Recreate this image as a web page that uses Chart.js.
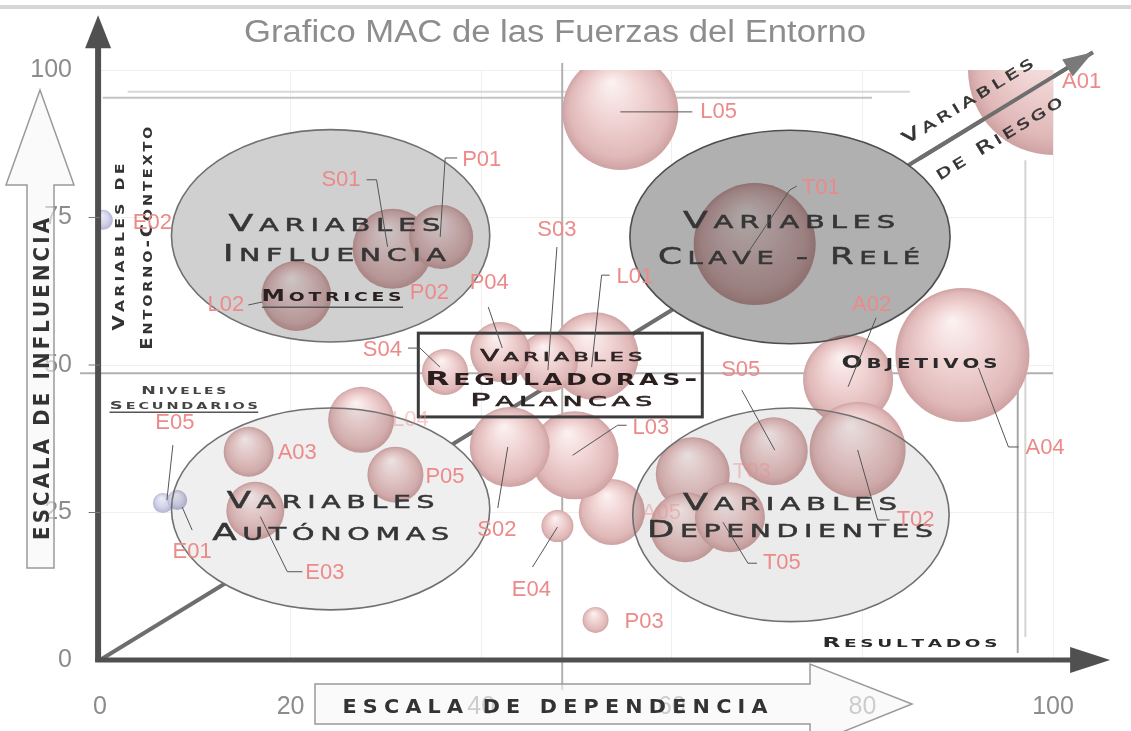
<!DOCTYPE html>
<html>
<head>
<meta charset="utf-8">
<script src="https://cdn.jsdelivr.net/npm/chart.js@4.4.1/dist/chart.umd.min.js"></script>
<style>
  html, body { margin: 0; padding: 0; background: #fff; }
  #wrap { width: 1131px; height: 731px; }
</style>
</head>
<body>
<div id="wrap"><canvas id="macChart" width="1131" height="731"></canvas></div>
<script>
// Variables del grafico MAC (dependencia, influencia, tamano de burbuja en px)
const codigos     = ['L05','A01','T01','A04','A02','T02','S05','T03','T04','T05','A05','P03','E04','L03','S02','L01','S03','P04','S04','P02','S01','P01','L02','E02','E05','E01','A03','E03','L04','P05'];
const dependencia = [54.6, 100, 68.7, 90.5, 78.5, 79.5, 70.7, 62.2, 61.4, 66.1, 53.7, 52.0, 48.0, 49.8, 43.0, 51.9, 47.0, 42.0, 36.2, 30.2, 30.7, 35.8, 20.6, 0.3, 6.6, 8.1, 15.6, 16.3, 27.4, 31.0];
const influencia  = [92.9, 100, 70.5, 51.7, 47.5, 35.6, 35.4, 31.5, 22.5, 24.2, 25.1, 6.8, 22.7, 34.7, 36.1, 51.5, 50.5, 52.2, 48.8, 68.4, 69.7, 71.7, 61.7, 74.6, 26.6, 27.1, 35.3, 25.3, 40.7, 31.4];
const tamano      = [58, 85, 61, 67, 45, 48, 34, 37, 35, 35, 33, 13, 16, 44, 40, 44, 30, 30, 23, 28, 40, 32, 35, 10, 10, 10, 25, 29, 33, 28];
const tonoLila    = ['E02', 'E05', 'E01'];

const ticksDependencia = [0, 20, 40, 60, 80, 100];
const ticksInfluencia  = [0, 25, 50, 75, 100];

const titulo = 'Grafico MAC de las Fuerzas del Entorno';

// posicion de cada etiqueta respecto al centro de su burbuja (px) y su linea guia
const etiquetas = {
  L05: { t: [80, 0], a: 'left', l: [[0, 0], [72, 0]] },
  A01: { t: [9, 12], a: 'left' },
  T01: { t: [47, -56], a: 'left', l: [[-7, 9], [35, -54], [42, -58]] },
  A04: { t: [63, 93], a: 'left', l: [[16, 13], [46, 92], [56, 92]] },
  A02: { t: [4, -75], a: 'left', l: [[0, 7], [28, -62]] },
  T02: { t: [39, 70], a: 'left', l: [[0, 0], [20, 70], [32, 70]] },
  S05: { t: [-33, -81], a: 'center', l: [[-32, -61], [1, -1]] },
  T03: { t: [40, -2], a: 'left', faint: true },
  T05: { t: [33, 46], a: 'left', l: [[-7, 5], [18, 46], [27, 46]] },
  A05: { t: [30, 1], a: 'left', faint: true },
  P03: { t: [29, 2], a: 'left' },
  E04: { t: [-26, 64], a: 'center', l: [[-25, 41], [0, 1]] },
  L03: { t: [58, -27], a: 'left', l: [[-2, 0], [43, -30], [52, -30]] },
  S02: { t: [-13, 83], a: 'center', l: [[-2, 0], [-12, 61]] },
  L01: { t: [22, -79], a: 'left', l: [[-3, 11], [7, -81], [15, -81]] },
  S03: { t: [9, -132], a: 'center', l: [[9, -115], [0, 8]] },
  P04: { t: [-11, -69], a: 'center', l: [[-12, -45], [2, -4]] },
  S04: { t: [-43, -22], a: 'right', l: [[-37, -24], [-25, -24], [-5, -5]] },
  S01: { t: [-32, -69], a: 'right', l: [[-26, -69], [-16, -69], [-5, -2]] },
  P01: { t: [21, -77], a: 'left', l: [[-1, 0], [4, -79], [16, -79]] },
  P02: { t: [22, 36], a: 'left' },
  L02: { t: [-52, 9], a: 'right', l: [[-48, 9], [-34, 6]] },
  E02: { t: [30, 3], a: 'left' },
  E05: { t: [12, -80], a: 'center', l: [[10, -58], [4, -3]] },
  E01: { t: [15, 52], a: 'center', l: [[5, 7], [15, 30]] },
  A03: { t: [29, 1], a: 'left' },
  E03: { t: [50, 62], a: 'left', l: [[5, 6], [32, 61], [47, 61]] },
  L04: { t: [31, 0], a: 'left', faint: true },
  P05: { t: [30, 2], a: 'left' }
};

// zonas (elipses) en unidades de los ejes
const zonas = [
  { cx: 24.2, cy: 71.9, rx: 16.7, ry: 18.0, fill: '#d0d0d0', edge: '#707070', tx: 24.6, lines: [['Variables', 74.1, 212], ['Influencia', 69.0, 223]] },
  { cx: 72.4, cy: 71.7, rx: 16.8, ry: 18.1, fill: '#b0b0b0', edge: '#4e4e4e', tx: 72.3, lines: [['Variables', 74.6, 212], ['Clave - Relé', 68.6, 262]] },
  { cx: 24.2, cy: 25.6, rx: 16.7, ry: 17.1, fill: '#efefef', edge: '#707070', tx: 24.2, lines: [['Variables', 27.1, 208], ['Autónomas', 21.7, 237]] },
  { cx: 72.5, cy: 24.6, rx: 16.6, ry: 18.1, fill: '#ebebeb', edge: '#707070', tx: 72.4, lines: [['Variables', 26.8, 214], ['Dependientes', 22.2, 286]] }
];

function sphereFill(context) {
  const plain = '#ecc6c6';
  if (context.type !== 'data') return plain;
  const chart = context.chart;
  const i = context.dataIndex;
  const xs = chart.scales.x, ys = chart.scales.y;
  if (!chart.chartArea || !xs || !ys) return plain;
  const cx = xs.getPixelForValue(dependencia[i]);
  const cy = ys.getPixelForValue(influencia[i]);
  const r = tamano[i];
  if (!isFinite(cx) || !isFinite(cy)) return plain;
  const g = chart.ctx.createRadialGradient(cx - r * 0.15, cy - r * 0.5, r * 0.05, cx, cy, r);
  if (tonoLila.includes(codigos[i])) {
    g.addColorStop(0, '#ececf6');
    g.addColorStop(0.6, '#d4d4ea');
    g.addColorStop(1, '#b4b4d6');
  } else {
    g.addColorStop(0, '#fbefef');
    g.addColorStop(0.45, '#f0d2d2');
    g.addColorStop(0.85, '#e0b8b8');
    g.addColorStop(1, '#cfa2a2');
  }
  return g;
}

// texto en versalitas (Copperplate aproximado), ajustado a un ancho
function capsText(ctx, text, cx, cy, width, size, opts = {}) {
  const family = opts.family || 'DejaVu Sans';
  const weight = opts.weight || 'normal';
  const small = opts.small || 0.8;
  const spacing = opts.spacing == null ? 0.16 : opts.spacing;
  const chars = [...text].map(ch => {
    const lower = ch !== ch.toUpperCase();
    return { c: ch.toUpperCase(), s: lower ? size * small : size };
  });
  ctx.save();
  ctx.translate(cx, cy);
  if (opts.angle) ctx.rotate(opts.angle);
  ctx.textBaseline = 'alphabetic';
  ctx.textAlign = 'left';
  let total = 0;
  chars.forEach(o => {
    ctx.font = `${weight} ${o.s}px "${family}"`;
    o.w = ctx.measureText(o.c).width;
    total += o.w;
  });
  total += spacing * size * (chars.length - 1);
  ctx.scale(width / total, 1);
  ctx.fillStyle = opts.color || '#3a3a3a';
  ctx.strokeStyle = opts.color || '#3a3a3a';
  ctx.lineWidth = opts.stroke || 0;
  let x = -total / 2;
  chars.forEach(o => {
    ctx.font = `${weight} ${o.s}px "${family}"`;
    ctx.fillText(o.c, x, size * 0.36);
    if (opts.stroke) ctx.strokeText(o.c, x, size * 0.36);
    x += o.w + spacing * size;
  });
  ctx.restore();
}

function fitText(ctx, text, cx, cy, width, font, color) {
  ctx.save();
  ctx.font = font;
  ctx.fillStyle = color;
  ctx.textAlign = 'center';
  ctx.textBaseline = 'middle';
  const w = ctx.measureText(text).width;
  ctx.translate(cx, cy);
  ctx.scale(width / w, 1);
  ctx.fillText(text, 0, 0);
  ctx.restore();
}

function poly(ctx, pts) {
  ctx.beginPath();
  pts.forEach((p, k) => (k ? ctx.lineTo(p[0], p[1]) : ctx.moveTo(p[0], p[1])));
  ctx.closePath();
}

function line(ctx, x1, y1, x2, y2, color, w) {
  ctx.beginPath();
  ctx.moveTo(x1, y1);
  ctx.lineTo(x2, y2);
  ctx.strokeStyle = color;
  ctx.lineWidth = w;
  ctx.stroke();
}

function ellipsePath(ctx, X, Y, z) {
  ctx.beginPath();
  ctx.ellipse(X(z.cx), Y(z.cy), X(z.rx) - X(0), Y(0) - Y(z.ry), 0, 0, Math.PI * 2);
}

const macDecor = {
  id: 'macDecor',
  beforeDatasetsDraw(chart) {
    const ctx = chart.ctx;
    const X = v => chart.scales.x.getPixelForValue(v);
    const Y = v => chart.scales.y.getPixelForValue(v);
    ctx.save();
    // lineas de cuadrantes y marcos
    line(ctx, X(0.3), Y(95.3), X(81), Y(95.3), '#c4c4c4', 2);
    line(ctx, X(2.9), Y(96.3), X(85), Y(96.3), '#d8d8d8', 2);
    line(ctx, X(48.5), Y(101.2), X(48.5), Y(-5.1), '#b0b0b0', 2);
    line(ctx, X(-2.1), Y(48.6), X(100), Y(48.6), '#b0b0b0', 2);
    line(ctx, X(96.3), Y(48.3), X(96.3), Y(1.2), '#a8a8a8', 2);
    line(ctx, X(97.1), Y(84.7), X(97.1), Y(3.9), '#d4d4d4', 2);
    // diagonal de riesgo
    line(ctx, X(0), Y(0), X(104.2), Y(103), '#6e6e6e', 4);
    // base blanca de las elipses (tapan la diagonal)
    zonas.forEach(z => {
      ellipsePath(ctx, X, Y, z);
      ctx.fillStyle = '#ffffff';
      ctx.fill();
    });
    ctx.restore();
  },
  afterDatasetsDraw(chart) {
    const ctx = chart.ctx;
    const X = v => chart.scales.x.getPixelForValue(v);
    const Y = v => chart.scales.y.getPixelForValue(v);
    ctx.save();

    // elipses en modo multiplicar sobre las burbujas
    zonas.forEach(z => {
      ctx.save();
      ctx.globalCompositeOperation = 'multiply';
      ellipsePath(ctx, X, Y, z);
      ctx.fillStyle = z.fill;
      ctx.fill();
      ctx.restore();
      ellipsePath(ctx, X, Y, z);
      ctx.strokeStyle = z.edge;
      ctx.lineWidth = 1.6;
      ctx.stroke();
    });

    // tramo visible de la diagonal y su punta
    const ang = Math.atan2(Y(103) - Y(0), X(104.2) - X(0));
    line(ctx, X(86), Y(86 * 103 / 104.2), X(102), Y(102 * 103 / 104.2), '#6e6e6e', 4);
    ctx.save();
    ctx.translate(X(104.2), Y(103));
    ctx.rotate(ang);
    poly(ctx, [[0, 0], [-30, -10], [-30, 10]]);
    ctx.fillStyle = '#7a7a7a';
    ctx.fill();
    ctx.restore();
    capsText(ctx, 'Variables', X(91.0), Y(94.9), 150, 17, { angle: ang, color: '#333', stroke: 0.5 });
    capsText(ctx, 'de Riesgo', X(94.3), Y(88.6), 145, 17, { angle: ang, color: '#333', stroke: 0.5 });

    // caja reguladoras
    ctx.strokeStyle = '#3c3c3c';
    ctx.lineWidth = 3;
    ctx.strokeRect(X(33.4), Y(55.4), X(63.2) - X(33.4), Y(41.2) - Y(55.4));

    // textos de zonas
    zonas.forEach(z => {
      z.lines.forEach(([txt, yy, w]) => capsText(ctx, txt, X(z.tx), Y(yy), w, 23, { color: '#363636', stroke: 0.5 }));
    });
    capsText(ctx, 'Variables', X(48.4), Y(51.7), 162, 16, { color: '#2e2424', stroke: 0.6 });
    capsText(ctx, 'Reguladoras-', X(48.4), Y(47.8), 272, 20, { color: '#2a1e1e', weight: 'bold', spacing: 0.12 });
    capsText(ctx, 'Palancas', X(48.4), Y(44.1), 182, 17, { color: '#2e2424', stroke: 0.6 });
    capsText(ctx, 'Objetivos', X(86.0), Y(50.5), 156, 17, { color: '#2a2a2a', weight: 'bold' });
    capsText(ctx, 'Resultados', X(85.0), Y(3.1), 175, 14, { color: '#2a2a2a', weight: 'bold' });
    capsText(ctx, 'Motrices', X(24.3), Y(61.9), 140, 16, { color: '#2a2020', weight: 'bold' });
    line(ctx, X(17.0), Y(59.8), X(31.8), Y(59.8), '#555', 1.5);
    capsText(ctx, 'Niveles', X(8.8), Y(45.8), 85, 11, { color: '#444', weight: 'bold' });
    capsText(ctx, 'Secundarios', X(8.8), Y(43.2), 148, 11, { color: '#444', weight: 'bold' });
    line(ctx, X(1.0), Y(42.0), X(16.6), Y(42.0), '#555', 1.5);
    capsText(ctx, 'Variables de', X(1.9), Y(70.0), 167, 16, { angle: -Math.PI / 2, color: '#333', weight: 'bold' });
    capsText(ctx, 'Entorno-Contexto', X(4.9), Y(71.5), 223, 16, { angle: -Math.PI / 2, color: '#333', weight: 'bold' });

    // lineas guia y etiquetas de las variables
    codigos.forEach((c, i) => {
      const e = etiquetas[c];
      if (!e) return;
      const cx = X(dependencia[i]);
      const cy = Y(influencia[i]);
      if (e.l) {
        ctx.beginPath();
        e.l.forEach((p, k) => (k ? ctx.lineTo(cx + p[0], cy + p[1]) : ctx.moveTo(cx + p[0], cy + p[1])));
        ctx.strokeStyle = '#555';
        ctx.lineWidth = 1;
        ctx.stroke();
      }
      ctx.font = '22px "Liberation Sans"';
      ctx.textAlign = e.a;
      ctx.textBaseline = 'middle';
      ctx.fillStyle = e.faint ? 'rgba(236,140,140,0.45)' : '#ec8a8a';
      ctx.fillText(c, cx + e.t[0], cy + e.t[1]);
    });

    // ejes con flecha
    line(ctx, X(-0.2), Y(-0.3), X(-0.2), Y(104), '#505050', 6);
    poly(ctx, [[X(-0.2), Y(109.3)], [X(-0.2) - 13, Y(103.7)], [X(-0.2) + 13, Y(103.7)]]);
    ctx.fillStyle = '#505050';
    ctx.fill();
    [25, 50, 75].forEach(v => line(ctx, X(-1.2), Y(v), X(0), Y(v), '#777', 1));
    line(ctx, X(-0.5), Y(0), X(102.3), Y(0), '#505050', 5);
    poly(ctx, [[X(106), Y(0)], [X(101.8), Y(0) - 13], [X(101.8), Y(0) + 13]]);
    ctx.fillStyle = '#505050';
    ctx.fill();

    // flechas huecas de escala
    ctx.fillStyle = 'rgba(246,246,246,0.6)';
    ctx.strokeStyle = '#9a9a9a';
    ctx.lineWidth = 1.5;
    poly(ctx, [[40, 90], [74, 185], [54, 185], [54, 568], [27, 568], [27, 185], [6, 185]]);
    ctx.fill();
    ctx.stroke();
    poly(ctx, [[315, 684], [810, 684], [810, 664], [912, 704], [810, 745], [810, 724], [315, 724]]);
    ctx.fill();
    ctx.stroke();
    capsText(ctx, 'ESCALA DE INFLUENCIA', 41, 379, 322, 22, { angle: -Math.PI / 2, color: '#333', weight: 'bold' });
    capsText(ctx, 'ESCALA DE DEPENDENCIA', 555, 706, 425, 19, { color: '#333', weight: 'bold', spacing: 0.3 });

    // titulo y barra superior
    ctx.fillStyle = '#d6d6d6';
    ctx.fillRect(0, 5, 1131, 4);
    fitText(ctx, titulo, 555, 33, 622, '31px "Liberation Sans"', '#8d8d8d');
    ctx.restore();
  }
};

new Chart(document.getElementById('macChart'), {
  type: 'bubble',
  data: {
    datasets: [{
      label: 'Variables',
      data: codigos.map((c, i) => ({ x: dependencia[i], y: influencia[i], r: tamano[i] })),
      backgroundColor: sphereFill,
      borderWidth: 0,
      clip: 0
    }]
  },
  options: {
    responsive: false,
    animation: false,
    events: [],
    layout: { autoPadding: false, padding: { top: 70, right: 78, left: 0, bottom: 0 } },
    plugins: {
      legend: { display: false },
      tooltip: { enabled: false },
      title: { display: false }
    },
    scales: {
      x: {
        type: 'linear',
        min: 0,
        max: 100,
        afterBuildTicks: s => { s.ticks = ticksDependencia.map(v => ({ value: v })); },
        afterFit: s => { s.height = 71; },
        ticks: { padding: 32, color: '#8c8c8c', font: { family: 'Liberation Sans', size: 25 } },
        grid: { color: '#efefef', drawTicks: false },
        border: { display: false }
      },
      y: {
        type: 'linear',
        min: 0,
        max: 100,
        afterBuildTicks: s => { s.ticks = ticksInfluencia.map(v => ({ value: v })); },
        afterFit: s => { s.width = 100; },
        ticks: { padding: 28, color: '#8c8c8c', font: { family: 'Liberation Sans', size: 25 } },
        grid: { color: '#efefef', drawTicks: false },
        border: { display: false }
      }
    }
  },
  plugins: [macDecor]
});
</script>
</body>
</html>
